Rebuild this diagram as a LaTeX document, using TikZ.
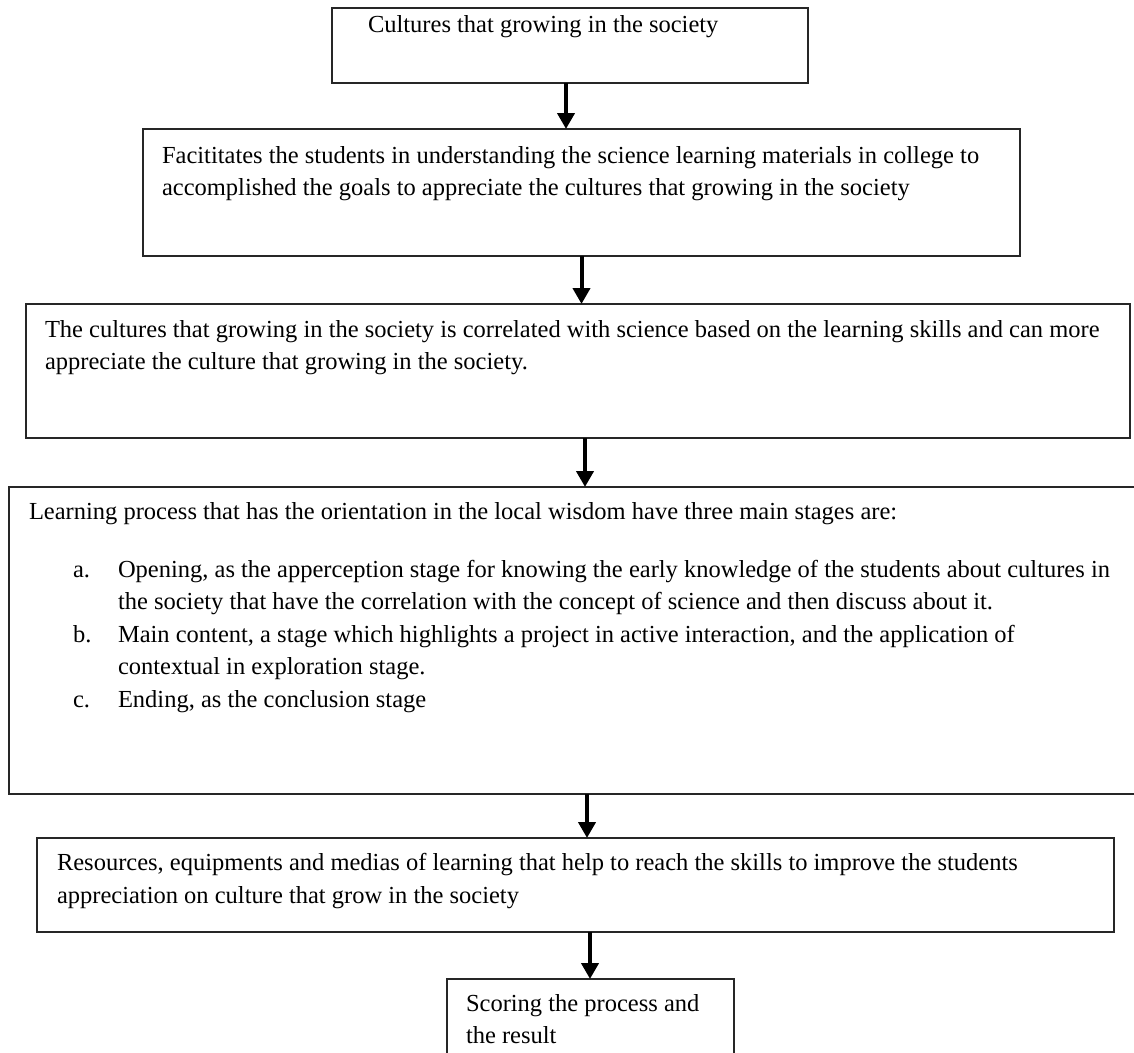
\documentclass[tikz,border=0pt]{standalone}
\usepackage{fontspec}
\setmainfont{Liberation Serif}
\usetikzlibrary{arrows.meta}
\tikzset{
  box/.style={draw=black!85, line width=1.5pt, inner sep=0pt, outer sep=0pt, anchor=north west, fill=none},
  txt/.style={anchor=base west, inner sep=0pt, outer sep=0pt, font=\fontsize{24.5}{32.4}\selectfont, text=black},
  arr/.style={line width=4pt, -{Triangle[length=16pt,width=17pt]}, black},
}
\begin{document}
\begin{tikzpicture}[x=1pt,y=-1pt]
\useasboundingbox (0,0) rectangle (1134,1052);
\clip (0,0) rectangle (1134,1052);
\fill[white] (0,0) rectangle (1134,1052);
% boxes
\node[box, minimum width=476pt, minimum height=75pt] (b1) at (332,8) {};
\node[box, minimum width=877pt, minimum height=127pt] (b2) at (143,129) {};
\node[box, minimum width=1104pt, minimum height=134pt] (b3) at (26,304) {};
\node[box, minimum width=1131pt, minimum height=307pt] (b4) at (9,487) {};
\node[box, minimum width=1077pt, minimum height=94pt] (b5) at (37,838) {};
\node[box, minimum width=287pt, minimum height=90pt] (b6) at (447,979) {};
% texts
\node[txt] (t1) at (368,32) {Cultures that growing in the society};
\node[txt] (t2a) at (162,163) {Facititates the students in understanding the science learning materials in college to};
\node[txt] (t2b) at (162,195) {accomplished the goals to appreciate the cultures that growing in the society};
\node[txt] (t3a) at (45,337) {The cultures that growing in the society is correlated with science based on the learning skills and can more};
\node[txt] (t3b) at (45,369) {appreciate the culture that growing in the society.};
\node[txt] (t4) at (29,519) {Learning process that has the orientation in the local wisdom have three main stages are:};
\node[txt] (la) at (73,577) {a.};
\node[txt] (ta1) at (118,577) {Opening, as the apperception stage for knowing the early knowledge of the students about cultures in};
\node[txt] (ta2) at (118,609) {the society that have the correlation with the concept of science and then discuss about it.};
\node[txt] (lb) at (73,642) {b.};
\node[txt] (tb1) at (118,642) {Main content, a stage which highlights a project in active interaction, and the application of};
\node[txt] (tb2) at (118,674) {contextual in exploration stage.};
\node[txt] (lc) at (73,707) {c.};
\node[txt] (tc1) at (118,707) {Ending, as the conclusion stage};
\node[txt] (t5a) at (57,870) {Resources, equipments and medias of learning that help to reach the skills to improve the students};
\node[txt] (t5b) at (57,903) {appreciation on culture that grow in the society};
\node[txt] (t6a) at (466,1011) {Scoring the process and};
\node[txt] (t6b) at (466,1043) {the result};
% arrows
\draw[arr] ([xshift=-4pt]b1.south) -- ([xshift=-4pt]b1.south |- b2.north);
\draw[arr] ([xshift=0pt]b2.south) -- ([xshift=0pt]b2.south |- b3.north);
\draw[arr] ([xshift=7pt]b3.south) -- ([xshift=7pt]b3.south |- b4.north);
\draw[arr] ([xshift=12.5pt]b4.south) -- ([xshift=12.5pt]b4.south |- b5.north);
\draw[arr] ([xshift=14.5pt]b5.south) -- ([xshift=14.5pt]b5.south |- b6.north);
\end{tikzpicture}
\end{document}
